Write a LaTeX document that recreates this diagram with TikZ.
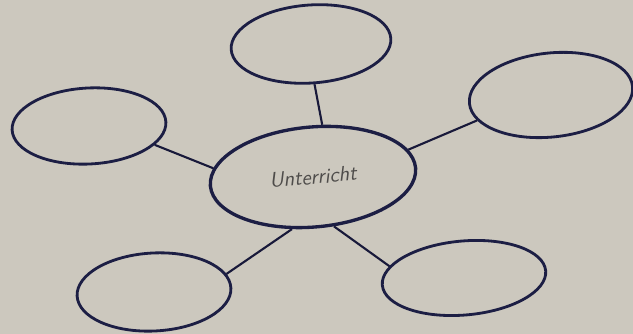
\documentclass[tikz,border=0pt]{standalone}
\usetikzlibrary{shapes.geometric}
\definecolor{papier}{RGB}{204,200,190}
\definecolor{tinte}{RGB}{28,30,68}
\definecolor{schrift}{RGB}{78,76,74}
\begin{document}
\begin{tikzpicture}[
		blase/.style={ellipse,draw=tinte,line width=1.6pt,inner sep=0pt},
		verbinder/.style={draw=tinte!85!black,line width=1.2pt}
	]
		
		\useasboundingbox (0,0) rectangle (12.66,6.68);
		\fill[papier] (0,0) rectangle (12.66,6.68);
		
		\node[blase,line width=1.9pt,minimum width=4.12cm,minimum height=2cm,rotate=5] (mitte) at (6.26,3.14) {\large\sffamily\itshape\color{schrift}Unterricht};
		
		\node[blase,minimum width=3.2cm,minimum height=1.56cm,rotate=4] (oben) at (6.22,5.8) {};
		\node[blase,minimum width=3.28cm,minimum height=1.68cm,rotate=6] (rechts) at (11.02,4.78) {};
		\node[blase,minimum width=3.08cm,minimum height=1.52cm,rotate=3] (links) at (1.78,4.16) {};
		\node[blase,minimum width=3.08cm,minimum height=1.56cm,rotate=3] (untenlinks) at (3.08,0.84) {};
		\node[blase,minimum width=3.28cm,minimum height=1.48cm,rotate=5] (untenrechts) at (9.28,1.12) {};
		
		\draw[verbinder] (mitte.75) -- (oben.271);
		\draw[verbinder] (mitte.11) -- (rechts.193);
		\draw[verbinder] (mitte.170) -- (links.341);
		\draw[verbinder] (mitte.243) -- (untenlinks.11);
		\draw[verbinder] (mitte.288) -- (untenrechts.166);
		
	\end{tikzpicture}
\end{document}
